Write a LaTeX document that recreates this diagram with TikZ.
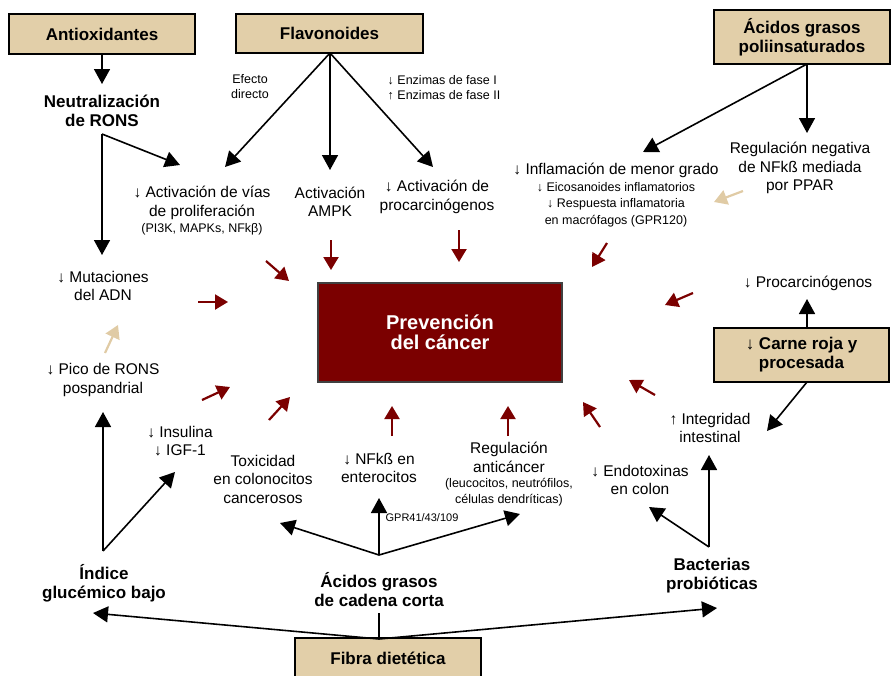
\documentclass[tikz,border=0pt]{standalone}
\usepackage{fontspec}
\setmainfont{Liberation Sans}
\usetikzlibrary{arrows.meta,positioning}
\definecolor{tanbox}{HTML}{E2CFA9}
\definecolor{prevred}{HTML}{7B0000}
\definecolor{tanarrow}{HTML}{E0CBA5}
\newcommand{\smallfnt}{\fontsize{12.5}{15}\selectfont}

\begin{document}
\begin{tikzpicture}[x=1pt, y=-1pt,
  box/.style={draw=black, line width=1.6pt, fill=tanbox, inner sep=0pt, align=center, font=\fontsize{17}{19}\selectfont\bfseries},
  txt/.style={inner sep=0pt, align=center, font=\fontsize{15.5}{18.5}\selectfont},
  btxt/.style={inner sep=0pt, align=center, font=\fontsize{17}{19}\selectfont\bfseries},
  stxt/.style={inner sep=0pt, align=center, font=\smallfnt},
  blk/.style={-{Triangle[length=15pt, width=16pt]}, line width=1.6pt},
  redarr/.style={-{Triangle[length=13pt, width=15pt]}, line width=2.2pt, prevred},
  tanarr/.style={redarr, tanarrow}]
  \useasboundingbox (0,0) rectangle (894,675);
  \clip (0,0) rectangle (894,675);

  % Central box
  \node[draw=black!75, line width=1.6pt, fill=prevred, minimum width=244, minimum height=99, inner sep=0pt,
        text=white, align=center, font=\fontsize{20}{20}\selectfont\bfseries] (prev) at (440,332.5) {Prevención\\ del cáncer};

  % Food boxes
  \node[box, minimum width=186, minimum height=40] (antiox) at (102,34) {Antioxidantes};
  \node[box, minimum width=187, minimum height=39] (flav) at (329.5,33.5) {Flavonoides};
  \node[box, minimum width=176, minimum height=54] (pufa) at (802,37) {Ácidos grasos\\poliinsaturados};
  \node[box, minimum width=175, minimum height=54] (carne) at (801.5,355) {{\mdseries ↓} Carne roja y\\procesada};
  \node[box, minimum width=186, minimum height=40] (fibra) at (388,658) {Fibra dietética};

  % Effects
  \node[btxt] (neut) at (102,111) {Neutralización\\de RONS};
  \node[txt] (prolif) at (202,211) {↓ Activación de vías\\de proliferación\\[-2pt]{\smallfnt (PI3K, MAPKs, NFkβ)}};
  \node[txt] (ampk) at (330,202) {Activación\\AMPK};
  \node[txt] (procarc) at (437,197) {↓ Activación de\\procarcinógenos};
  \node[stxt] (efecto) at (250,87) {Efecto\\directo};
  \node[stxt, align=left] (enzimas) at (444,88) {↓ Enzimas de fase I\\↑ Enzimas de fase II};
  \node[txt] (inflam) at (616,195) {↓ Inflamación de menor grado\\[-2pt]{\smallfnt ↓ Eicosanoides inflamatorios}\\[-2pt]{\smallfnt ↓ Respuesta inflamatoria}\\[-2pt]{\smallfnt en macrófagos (GPR120)}};
  \node[txt] (regneg) at (800,168) {Regulación negativa\\de NFkß mediada\\por PPAR};
  \node[txt] (mut) at (103,286) {↓ Mutaciones\\del ADN};
  \node[txt] (pico) at (103,380) {↓ Pico de RONS\\pospandrial};
  \node[txt] (insul) at (180,441) {↓ Insulina\\↓ IGF-1};
  \node[txt] (toxic) at (263,479) {Toxicidad\\en colonocitos\\cancerosos};
  \node[txt] (nfkb) at (379,468) {↓ NFkß en\\enterocitos};
  \node[txt] (regan) at (509,474) {Regulación\\anticáncer\\[-3pt]{\smallfnt (leucocitos, neutrófilos,}\\[-3pt]{\smallfnt células dendríticas)}};
  \node[txt] (endo) at (640,480) {↓ Endotoxinas\\en colon};
  \node[txt] (integ) at (710,428) {↑ Integridad\\intestinal};
  \node[txt] (procarc2) at (808,283) {↓ Procarcinógenos};
  \node[btxt] (indice) at (104,583) {Índice\\glucémico bajo};
  \node[btxt] (agcc) at (379,590) {Ácidos grasos\\de cadena corta};
  \node[btxt] (bact) at (712,576) {Bacterias\\probióticas};
  \node[inner sep=0pt, font=\fontsize{11}{13}\selectfont] (gpr) at (422,518) {GPR41/43/109};

  % Junctions and arrow ends
  \coordinate (neutJ) at (102,134);
  \coordinate (flavJ) at (330,53);
  \coordinate (pufaJ) at (807,64);
  \coordinate (carneT) at (807,328);
  \coordinate (carneB) at (807,382);
  \coordinate (indiceJ) at (103,551);
  \coordinate (agccJ) at (379,555);
  \coordinate (bactJ) at (709,547);
  \coordinate (fibraJ) at (379,639);
  \coordinate (agccB) at (379,613);

  % Black arrows
  \draw[blk] (antiox.south) -- (102,84) coordinate (neutIn);
  \draw[blk] (neutJ) -- (180,165) coordinate (prolifIn);
  \draw[blk] (neutJ) -- (102,255) coordinate (mutIn);
  \draw[blk] (flavJ) -- (225,167) coordinate (prolifIn2);
  \draw[blk] (flavJ) -- (330,170) coordinate (ampkIn);
  \draw[blk] (flavJ) -- (433,167) coordinate (procarcIn);
  \draw[blk] (pufaJ) -- (807,133) coordinate (regnegIn);
  \draw[blk] (pufaJ) -- (643,152) coordinate (inflamIn);
  \draw[blk] (carneT) -- (807,299) coordinate (procarc2In);
  \draw[blk] (carneB) -- (767,431) coordinate (integIn);
  \draw[blk] (indiceJ) -- (103,412) coordinate (picoIn);
  \draw[blk] (indiceJ) -- (175,472) coordinate (insulIn);
  \draw[blk] (agccJ) -- (379,498) coordinate (nfkbIn);
  \draw[blk] (agccJ) -- (280,523) coordinate (toxicIn);
  \draw[blk] (agccJ) -- (520,514) coordinate (reganIn);
  \draw[blk] (bactJ) -- (709,455) coordinate (integIn2);
  \draw[blk] (bactJ) -- (649,507) coordinate (endoIn);
  \draw[blk] (fibraJ) -- (93,613) coordinate (indiceIn);
  \draw[blk] (fibraJ) -- (717,608) coordinate (bactIn);
  \draw[line width=1.6pt] (fibraJ) -- (agccB);

  % Red arrows towards the central box
  \foreach \n/\sx/\sy/\ex/\ey in {1/266/261/289/281, 2/331/240/331/270, 3/459/230/459/262,
      4/607/243/592/267, 5/693/293/665/305, 6/198/302/228/302, 7/202/400/230/387,
      8/269/420/290/397, 9/392/436/392/406, 10/508/436/508/406, 11/600/427/583/402,
      12/655/395/629/380} {
    \coordinate (red\n-s) at (\sx,\sy);
    \coordinate (red\n-e) at (\ex,\ey);
    \draw[redarr] (red\n-s) -- (red\n-e);
  }

  % Tan arrows
  \coordinate (picoOut) at (105,353);
  \coordinate (mutOut) at (118,325);
  \coordinate (regnegOut) at (743,191);
  \coordinate (inflamOut) at (714,202);
  \draw[tanarr] (picoOut) -- (mutOut);
  \draw[tanarr] (regnegOut) -- (inflamOut);
\end{tikzpicture}
\end{document}
